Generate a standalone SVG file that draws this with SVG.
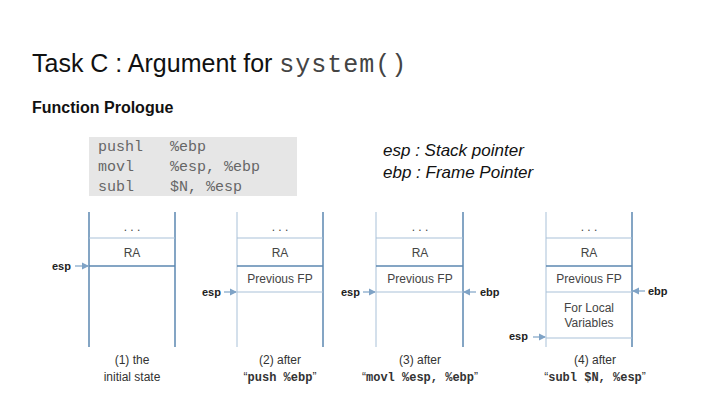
<svg xmlns="http://www.w3.org/2000/svg" width="720" height="405" viewBox="0 0 720 405">
<style>
.s{stroke:#5b87b0;stroke-width:1.5;fill:none}
.t{stroke:#a9c1d8;stroke-width:1;fill:none}
.c{font-family:"Liberation Sans",Arial,sans-serif;font-size:12px;fill:#444;text-anchor:middle}
.p{font-family:"Liberation Sans",Arial,sans-serif;font-size:11px;font-weight:bold;fill:#222}
.cap{font-family:"Liberation Sans",Arial,sans-serif;font-size:12px;fill:#333;text-anchor:middle}
.m{font-family:"Liberation Mono",monospace;font-weight:bold}
.code{font-family:"Liberation Mono",monospace;font-size:15px;fill:#666}
.a{stroke:#7fa3c6;stroke-width:1.2;marker-end:url(#ar)}
</style>
<defs><marker id="ar" markerWidth="6" markerHeight="6" refX="5" refY="3" orient="auto"><path d="M0,0L6,3L0,6z" fill="#7fa3c6"/></marker></defs>
<rect width="720" height="405" fill="#fff"/>
<text x="32" y="72" font-family="'Liberation Sans',Arial,sans-serif" font-size="25" fill="#111">Task C : Argument for <tspan font-family="'Liberation Mono',monospace" fill="#444" letter-spacing="1">system()</tspan></text>
<text x="32" y="113" font-family="'Liberation Sans',Arial,sans-serif" font-size="16" font-weight="bold" fill="#111">Function Prologue</text>
<g id="code"><rect x="89" y="137" width="208" height="59" fill="#e6e6e6"/>
<text class="code" x="98" y="151">pushl</text><text class="code" x="170" y="151">%ebp</text>
<text class="code" x="98" y="171">movl</text><text class="code" x="170" y="171">%esp, %ebp</text>
<text class="code" x="98" y="191">subl</text><text class="code" x="170" y="191">$N, %esp</text></g>
<g id="legend" font-family="'Liberation Sans',Arial,sans-serif" font-size="17" font-style="italic" fill="#111"><text x="383" y="156">esp : Stack pointer</text><text x="383" y="178">ebp : Frame Pointer</text></g>
<g id="stack1"><line class="s" x1="89" y1="212" x2="89" y2="347" stroke="#c9d8e6"/><line class="s" x1="175" y1="212" x2="175" y2="347"/>
<line class="t" x1="89" y1="238" x2="175" y2="238"/><line class="s" x1="89" y1="266" x2="175" y2="266"/>
<text class="c" x="132" y="231">. . .</text><text class="c" x="132" y="257">RA</text>
<text class="cap" x="132" y="364">(1) the</text><text class="cap" x="132" y="381">initial state</text></g>
<g id="stack2"><line class="t" x1="237" y1="212" x2="237" y2="347"/><line class="s" x1="323" y1="212" x2="323" y2="347"/>
<line class="t" x1="237" y1="238" x2="323" y2="238"/><line class="s" x1="237" y1="266" x2="323" y2="266"/><line class="t" x1="237" y1="292" x2="323" y2="292"/>
<text class="c" x="280" y="231">. . .</text><text class="c" x="280" y="257">RA</text><text class="c" x="280" y="283">Previous FP</text>
<text class="cap" x="280" y="364">(2) after</text><text class="cap" x="280" y="381">“<tspan class="m">push %ebp</tspan>”</text></g>
<g id="stack3"><line class="t" x1="376" y1="212" x2="376" y2="347"/><line class="s" x1="463" y1="212" x2="463" y2="347"/>
<line class="t" x1="376" y1="238" x2="463" y2="238"/><line class="s" x1="376" y1="266" x2="463" y2="266"/><line class="t" x1="376" y1="292" x2="463" y2="292"/>
<text class="c" x="420" y="231">. . .</text><text class="c" x="420" y="257">RA</text><text class="c" x="420" y="283">Previous FP</text>
<text class="cap" x="420" y="364">(3) after</text><text class="cap" x="420" y="381">“<tspan class="m">movl %esp, %ebp</tspan>”</text></g>
<g id="stack4"><line class="t" x1="546" y1="212" x2="546" y2="347"/><line class="s" x1="632" y1="212" x2="632" y2="347"/>
<line class="t" x1="546" y1="238" x2="632" y2="238"/><line class="s" x1="546" y1="266" x2="632" y2="266"/><line class="t" x1="546" y1="292" x2="632" y2="292"/><line class="t" x1="546" y1="338" x2="632" y2="338"/>
<text class="c" x="589" y="231">. . .</text><text class="c" x="589" y="257">RA</text><text class="c" x="589" y="283">Previous FP</text><text class="c" x="589" y="312">For Local</text><text class="c" x="589" y="327">Variables</text>
<text class="cap" x="595" y="364">(4) after</text><text class="cap" x="595" y="381">“<tspan class="m">subl $N, %esp</tspan>”</text></g>
<g id="connectors">
<text class="p" x="52" y="270">esp</text><line class="a" x1="75" y1="266" x2="88" y2="266"/>
<text class="p" x="202" y="296">esp</text><line class="a" x1="224" y1="292" x2="236" y2="292"/>
<text class="p" x="341" y="296">esp</text><line class="a" x1="363" y1="292" x2="375" y2="292"/>
<line class="a" x1="476" y1="292" x2="464" y2="292"/><text class="p" x="480" y="296">ebp</text>
<line class="a" x1="645" y1="291" x2="633" y2="291"/><text class="p" x="648" y="295">ebp</text>
<text class="p" x="509" y="340">esp</text><line class="a" x1="533" y1="337" x2="545" y2="337"/>
</g>
</svg>
